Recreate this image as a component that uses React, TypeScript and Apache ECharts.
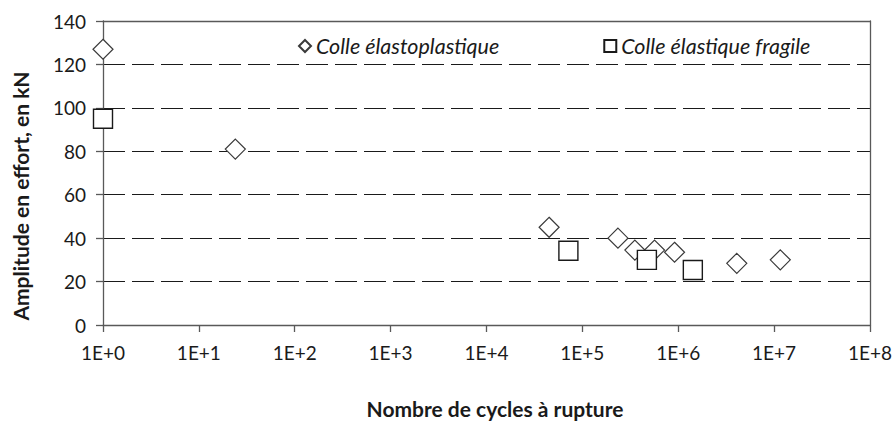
import React, { useEffect, useRef } from "react";
import * as echarts from "echarts";

const elastoCycles = [1, 24, 45000, 235000, 353000, 566000, 915000, 4080000, 11600000];
const elastoAmplitude = [127, 81, 45, 40, 34.5, 34.5, 33.5, 28.4, 30];
const fragileCycles = [1, 71500, 471000, 1420000];
const fragileAmplitude = [95, 34.2, 30, 25.3];
const seriesNames = ["Colle élastoplastique", "Colle élastique fragile"];
const xAxisTitle = "Nombre de cycles à rupture";
const yAxisTitle = "Amplitude en effort, en kN";

const FONT = "Lato";
const TXT = "#1a1a1a";
const AX = "#595959";

export default function App() {
  const ref = useRef<HTMLDivElement>(null);
  useEffect(() => {
    if (!ref.current) return;
    const chart = echarts.init(ref.current, undefined, { renderer: "svg" });
    const pts = (xs: number[], ys: number[]) => xs.map((x, i) => [x, ys[i]]);
    chart.setOption({
      animation: false,
      backgroundColor: "#fff",
      textStyle: { fontFamily: FONT },
      grid: { left: 103, right: 24, top: 21, bottom: 98, containLabel: false },
      legend: {
        top: 30,
        left: 293,
        itemGap: 104,
        itemWidth: 12,
        itemHeight: 12,
        textStyle: { fontFamily: FONT, fontStyle: "italic", fontSize: 21.5, color: TXT },
        data: seriesNames,
      },
      graphic: [
        {
          type: "text",
          x: 20,
          y: 196,
          rotation: Math.PI / 2,
          style: {
            text: yAxisTitle,
            align: "center",
            verticalAlign: "middle",
            fontFamily: FONT,
            fontWeight: "bold",
            fontSize: 21,
            fill: TXT,
          },
        },
        {
          type: "text",
          x: 495,
          y: 408,
          style: {
            text: xAxisTitle,
            align: "center",
            verticalAlign: "middle",
            fontFamily: FONT,
            fontWeight: "bold",
            fontSize: 21,
            fill: TXT,
          },
        },
      ],
      xAxis: [
        {
          type: "log",
          logBase: 10,
          min: 1,
          max: 1e8,
          axisLine: { show: true, onZero: false, lineStyle: { color: AX, width: 1.3 } },
          axisTick: { show: true, inside: false, length: 7, lineStyle: { color: AX, width: 1.3 } },
          axisLabel: {
            margin: 18,
            fontSize: 19,
            color: TXT,
            fontFamily: FONT,
            formatter: (v: number) => "1E+" + Math.round(Math.log10(v)),
          },
          splitLine: { show: false },
          minorTick: { show: false },
          minorSplitLine: { show: false },
        },
        {
          type: "log",
          logBase: 10,
          min: 1,
          max: 1e8,
          position: "top",
          axisLine: { show: true, onZero: false, lineStyle: { color: AX, width: 1.3 } },
          axisTick: { show: false },
          axisLabel: { show: false },
          splitLine: { show: false },
        },
      ],
      yAxis: [
        {
          type: "value",
          min: 0,
          max: 140,
          interval: 20,
          axisLine: { show: true, onZero: false, lineStyle: { color: AX, width: 1.3 } },
          axisTick: { show: true, inside: false, length: 7, lineStyle: { color: AX, width: 1.3 } },
          axisLabel: { margin: 17, fontSize: 19, color: TXT, fontFamily: FONT },
          splitLine: { show: true, lineStyle: { color: "#1a1a1a", width: 1.2, type: [22, 7] } },
        },
        {
          type: "value",
          min: 0,
          max: 140,
          interval: 20,
          position: "right",
          axisLine: { show: true, onZero: false, lineStyle: { color: AX, width: 1.3 } },
          axisTick: { show: false },
          axisLabel: { show: false },
          splitLine: { show: false },
        },
      ],
      series: [
        {
          name: seriesNames[0],
          type: "scatter",
          symbol: "diamond",
          symbolSize: 20,
          xAxisIndex: 0,
          yAxisIndex: 0,
          itemStyle: { color: "#fff", borderColor: "#3a3a3a", borderWidth: 1.2, opacity: 1 },
          data: pts(elastoCycles, elastoAmplitude),
          z: 3,
        },
        {
          name: seriesNames[1],
          type: "scatter",
          symbol: "rect",
          symbolSize: 19,
          xAxisIndex: 0,
          yAxisIndex: 0,
          itemStyle: { color: "#fff", borderColor: "#1a1a1a", borderWidth: 1.4, opacity: 1 },
          data: pts(fragileCycles, fragileAmplitude),
          z: 4,
        },
      ],
    });
    return () => chart.dispose();
  }, []);
  return (
    <div
      ref={ref}
      style={{ position: "fixed", left: 0, top: 0, width: 895, height: 423, background: "#fff" }}
    />
  );
}
